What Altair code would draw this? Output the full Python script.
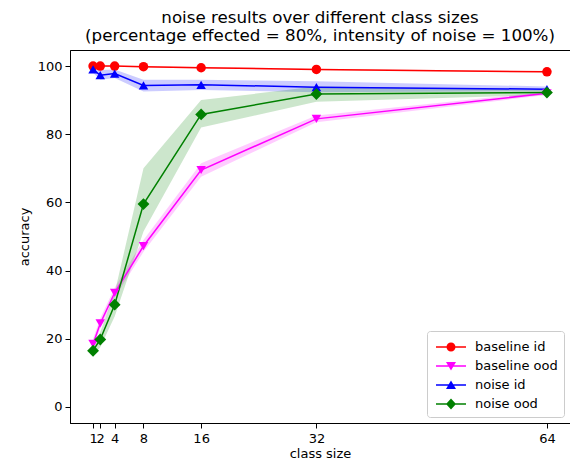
import altair as alt
import pandas as pd

sizes = [1, 2, 4, 8, 16, 32, 64]
series_names = ["baseline id", "baseline ood", "noise id", "noise ood"]
colors = ["#ff0000", "#ff00ff", "#0000ff", "#008000"]
marker_shapes = ["circle", "triangle-down", "triangle-up", "diamond"]
marker_sizes = [90, 90, 90, 140]

baseline_id = [100.0, 100.0, 100.0, 99.8, 99.5, 99.0, 98.3]
baseline_id_lo = [99.8, 99.8, 99.8, 99.6, 99.3, 98.8, 98.1]
baseline_id_hi = [100.0, 100.0, 100.0, 100.0, 99.7, 99.2, 98.5]

baseline_ood = [18.5, 24.5, 33.5, 47.2, 69.5, 84.5, 92.0]
baseline_ood_lo = [17.0, 23.0, 32.0, 45.5, 67.5, 83.5, 91.5]
baseline_ood_hi = [20.0, 26.0, 35.0, 49.0, 71.5, 85.5, 92.5]

noise_id = [99.0, 97.3, 97.8, 94.3, 94.5, 93.8, 93.2]
noise_id_lo = [98.0, 96.0, 96.5, 92.5, 93.0, 92.3, 92.7]
noise_id_hi = [100.0, 98.8, 99.0, 96.0, 96.0, 95.5, 94.0]

noise_ood = [16.5, 19.8, 30.0, 59.5, 85.8, 91.8, 92.2]
noise_ood_lo = [15.0, 17.5, 26.5, 51.5, 82.0, 89.5, 91.5]
noise_ood_hi = [18.0, 22.0, 33.5, 70.0, 90.0, 94.0, 93.0]

means = [baseline_id, baseline_ood, noise_id, noise_ood]
los = [baseline_id_lo, baseline_ood_lo, noise_id_lo, noise_ood_lo]
his = [baseline_id_hi, baseline_ood_hi, noise_id_hi, noise_ood_hi]

rows = []
for k, name in enumerate(series_names):
    for i, s in enumerate(sizes):
        rows.append({"size": s, "series": name, "order": k,
                     "acc": means[k][i], "lo": los[k][i], "hi": his[k][i]})
df = pd.DataFrame(rows)

line_seg = "M-1.5,-0.075H1.5V0.075H-1.5Z"
legend_paths = [
    line_seg + "M0.45,0A0.45,0.45 0 1 1 -0.45,0A0.45,0.45 0 1 1 0.45,0Z",
    line_seg + "M-0.5,-0.4H0.5L0,0.45Z",
    line_seg + "M0,-0.45L0.5,0.4H-0.5Z",
    line_seg + "M0,-0.55L0.5,0L0,0.55L-0.5,0Z",
]

color_scale = alt.Scale(domain=series_names, range=colors)
leg_def = alt.Legend(title=None, symbolOpacity=1, symbolStrokeWidth=0)

x = alt.X("size:Q", title="class size",
          scale=alt.Scale(domain=[-2.2, 67.2], nice=False, zero=False),
          axis=alt.Axis(values=sizes, labelOverlap=False, labelFlush=False, format="d"))
y = alt.Y("acc:Q", title="accuracy",
          scale=alt.Scale(domain=[-4.7, 104.7], nice=False, zero=False),
          axis=alt.Axis(values=[0, 20, 40, 60, 80, 100], format="d"))

base = alt.Chart(df)

leg = base.mark_point(filled=True, opacity=0).encode(
    x=x, y=y,
    color=alt.Color("series:N", scale=color_scale, legend=leg_def),
    shape=alt.Shape("series:N", scale=alt.Scale(domain=series_names, range=legend_paths),
                    legend=leg_def),
)

band = base.mark_area(opacity=0.2).encode(
    x=x, y=alt.Y("lo:Q"), y2="hi:Q",
    color=alt.Color("series:N", scale=color_scale, legend=leg_def),
    order="order:Q",
)

line = base.mark_line(strokeWidth=1.5).encode(
    x=x, y=y,
    color=alt.Color("series:N", scale=color_scale, legend=leg_def),
    order="size:Q",
)

point_layers = []
for name, shp, msz in zip(series_names, marker_shapes, marker_sizes):
    point_layers.append(
        base.transform_filter(alt.datum.series == name)
        .mark_point(filled=True, size=msz, opacity=1, shape=shp)
        .encode(x=x, y=y,
                color=alt.Color("series:N", scale=color_scale, legend=leg_def))
    )

chart = alt.layer(leg, band, line, *point_layers).properties(
    width=500, height=373,
    title=alt.Title(
        text=["noise results over different class sizes",
              "(percentage effected = 80%, intensity of noise = 100%)"],
        fontSize=16.7, fontWeight="normal", anchor="middle", font="DejaVu Sans",
        color="black", offset=5, lineHeight=18,
    ),
    autosize=alt.AutoSizeParams(type="none"),
    padding={"left": 62, "top": 42, "right": 0, "bottom": 37},
).configure_view(stroke="black", strokeWidth=1).configure_axis(
    grid=False, domainColor="black", tickColor="black", labelColor="black",
    titleColor="black", labelFont="DejaVu Sans", titleFont="DejaVu Sans",
    labelFontSize=13, titleFontSize=13, titleFontWeight="normal", tickSize=5,
    labelPadding=3,
).configure_axisY(titlePadding=6).configure_axisX(titlePadding=2, labelPadding=4).configure_legend(
    orient="bottom-right", offset=6, fillColor="white", strokeColor="#cccccc",
    cornerRadius=3, padding=6, labelFont="DejaVu Sans", labelFontSize=13,
    labelColor="black", symbolSize=400, rowPadding=2, labelOffset=14, symbolOffset=8,
)

chart.save("out.html", embed_options={"renderer": "svg", "actions": False})
